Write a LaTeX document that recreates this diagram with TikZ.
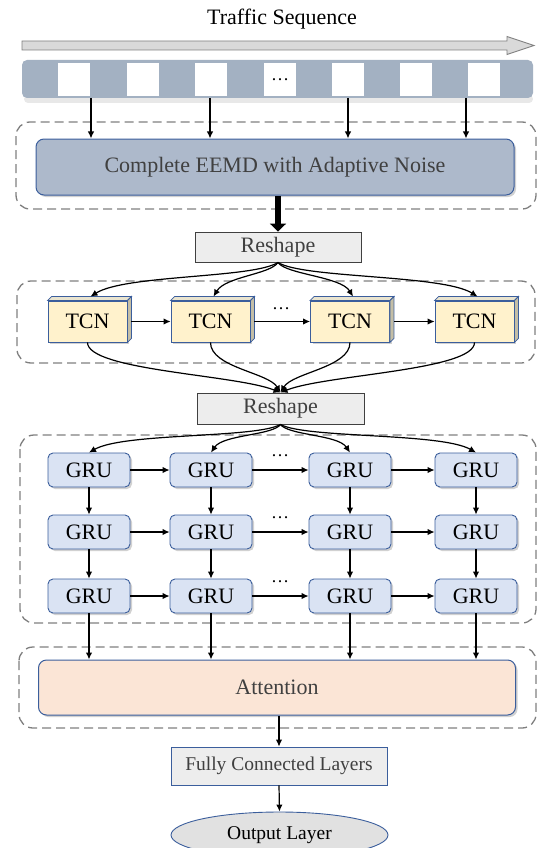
\documentclass[tikz,border=0pt]{standalone}
\usepackage{fontspec}
\setmainfont{Liberation Serif}
\usetikzlibrary{arrows.meta,shapes.geometric,shadows,calc}
\definecolor{barblue}{HTML}{A3B1C2}
\definecolor{eemdfill}{HTML}{ADB9CB}
\definecolor{bord}{HTML}{3B5E9C}
\definecolor{tcnfill}{HTML}{FFF2CC}
\definecolor{tcntop}{HTML}{E9E4CF}
\definecolor{tcnside}{HTML}{C4BEA6}
\definecolor{grufill}{HTML}{DAE3F3}
\definecolor{attfill}{HTML}{FBE5D6}
\definecolor{resfill}{HTML}{EDEDED}
\definecolor{darktext}{HTML}{404040}
\definecolor{dashgray}{HTML}{7F7F7F}
\definecolor{arrowgray}{HTML}{D9D9D9}
\begin{document}
\begin{tikzpicture}[x=1pt,y=-1pt,
  arr/.style={-{Latex[length=7pt,width=6.5pt]}, line width=1.2pt},
  dashbox/.style={draw=dashgray, line width=1.3pt, dash pattern=on 9pt off 5pt, rounded corners=14pt},
  shad/.style={drop shadow={shadow xshift=2pt, shadow yshift=-2pt, opacity=0.3, fill=black!60}},
  big/.style={font=\fontsize{22}{24}\selectfont},
  mid/.style={font=\fontsize{19.5}{22}\selectfont},
  dotsnode/.style={font=\fontsize{18}{20}\selectfont, inner sep=0pt},
  tcnbox/.style={draw=bord, line width=0.9pt, fill=tcnfill, minimum width=79pt, minimum height=41pt, inner sep=0pt, big, shad},
  grubox/.style={draw=bord, line width=0.9pt, fill=grufill, rounded corners=5pt, minimum width=82pt, minimum height=34pt, inner sep=0pt, big, shad},
  sqbox/.style={fill=white, minimum width=32pt, minimum height=33pt, inner sep=0pt},
  resbox/.style={draw=darktext, line width=0.9pt, fill=resfill, minimum width=166pt, minimum height=30pt, inner sep=0pt, big, text=darktext}
]
\useasboundingbox (0,0) rectangle (537,848);

% title and sequence arrow
\node[big] (title) at (282,19) {Traffic Sequence};
\draw[draw=dashgray, fill=arrowgray, line width=0.8pt]
  (22,41) -- (507,41) -- (507,36.5) -- (534,45.5) -- (507,54.5) -- (507,50) -- (22,50) -- cycle;

% sequence bar
\fill[black!15, opacity=0.6, rounded corners=4pt] (24,95) rectangle (533,103);
\node[fill=barblue, rounded corners=5pt, minimum width=511pt, minimum height=38pt, inner sep=0pt] (bar) at (277.5,79) {};
\foreach \i/\x in {1/74,2/143,3/211,5/348,6/416,7/484}{
  \node[sqbox] (sq\i) at (\x,79.5) {};
}
\node[sqbox, dotsnode] (sq4) at (280,79.5) {\ldots};

% EEMD block
\draw[dashbox] (16,122) rectangle (536,209);
\node[draw=bord, line width=1pt, fill=eemdfill, rounded corners=8pt, minimum width=478pt, minimum height=56pt, inner sep=0pt, big, text=darktext, shad] (eemd) at (275,167) {Complete EEMD with Adaptive Noise};
\foreach \i/\x in {1/91,2/210,3/348,4/466}{
  \coordinate (s\i) at (\x,98);
  \draw[arr] (s\i) -- (s\i |- eemd.north);
}

% Reshape 1
\node[resbox] (r1) at (278,247) {Reshape};
\draw[line width=6.5pt, -{Triangle[length=8pt,width=16pt]}] (r1.north |- eemd.south) -- (r1.north);

% TCN block
\draw[dashbox] (17,281) rectangle (535,363);
\foreach \i/\x in {1/87.5,2/210.5,3/350,4/474.5}{
  \node[tcnbox] (t\i) at (\x,321.5) {TCN};
  \draw[draw=bord, line width=0.8pt, fill=tcntop] (t\i.north west) -- ++(4,-4) -- ($(t\i.north east)+(4,-4)$) -- (t\i.north east) -- cycle;
  \draw[draw=bord, line width=0.8pt, fill=tcnside] (t\i.north east) -- ++(4,-4) -- ($(t\i.south east)+(4,-4)$) -- (t\i.south east) -- cycle;
  \coordinate (tt\i) at ($(t\i.north)+(3,-4)$);
}
\draw[arr] ($(t1.east)+(4,0)$) -- (t2.west);
\draw[arr] ($(t2.east)+(4,0)$) -- (t3.west);
\draw[arr] ($(t3.east)+(4,0)$) -- (t4.west);
\node[dotsnode] (dt) at (281,309) {\ldots};

\draw[arr] (r1.south) .. controls +(-25,16) and +(35,-22) .. (tt1);
\draw[arr] (r1.south) .. controls +(-8,12) and +(12,-20) .. (tt2);
\draw[arr] (r1.south) .. controls +(8,12) and +(-12,-20) .. (tt3);
\draw[arr] (r1.south) .. controls +(25,16) and +(-35,-22) .. (tt4);

% Reshape 2
\node[resbox, minimum width=167pt, minimum height=31pt] (r2) at (280.5,408.5) {Reshape};
\draw[arr] (t1.south) .. controls +(0,28) and +(-45,-18) .. (r2.north);
\draw[arr] (t2.south) .. controls +(0,25) and +(-12,-20) .. (r2.north);
\draw[arr] (t3.south) .. controls +(0,25) and +(12,-20) .. (r2.north);
\draw[arr] (t4.south) .. controls +(0,28) and +(45,-18) .. (r2.north);

% GRU block
\draw[dashbox] (20,435) rectangle (536,623);
\foreach \r/\y in {1/470,2/532,3/596}{
  \foreach \c/\x in {1/89,2/211,3/350,4/476}{
    \node[grubox] (g\r\c) at (\x,\y) {GRU};
  }
  \draw[arr] (g\r1) -- (g\r2);
  \draw[arr] (g\r2) -- (g\r3);
  \draw[arr] (g\r3) -- (g\r4);
}
\node[dotsnode] (dg1) at (280,456) {\ldots};
\node[dotsnode] (dg2) at (280,518) {\ldots};
\node[dotsnode] (dg3) at (280,582) {\ldots};
\foreach \c in {1,2,3,4}{
  \draw[arr] (g1\c) -- (g2\c);
  \draw[arr] (g2\c) -- (g3\c);
}
\draw[arr] (r2.south) .. controls +(-25,14) and +(35,-20) .. (g11.north);
\draw[arr] (r2.south) .. controls +(-8,11) and +(12,-18) .. (g12.north);
\draw[arr] (r2.south) .. controls +(8,11) and +(-12,-18) .. (g13.north);
\draw[arr] (r2.south) .. controls +(25,14) and +(-35,-20) .. (g14.north);

% Attention block
\draw[dashbox] (19,647) rectangle (536,728);
\node[draw=bord, line width=1pt, fill=attfill, rounded corners=8pt, minimum width=477pt, minimum height=55pt, inner sep=0pt, big, text=darktext, shad] (att) at (277,687.5) {Attention};
\foreach \c in {1,2,3,4}{
  \draw[arr] (g3\c.south) -- (g3\c.south |- att.north);
}

% Fully connected and output
\node[draw=bord, line width=0.9pt, fill=resfill, minimum width=216pt, minimum height=38pt, inner sep=0pt, mid, text=darktext] (fc) at (279,766) {Fully Connected Layers};
\draw[arr] (fc.north |- att.south) -- (fc.north);
\node[ellipse, draw=bord, line width=0.9pt, fill=resfill!95!black, minimum width=217pt, minimum height=46pt, inner sep=0pt, mid] (out) at (279.5,835) {Output Layer};
\draw[arr] (fc.south) -- (out.north);
\end{tikzpicture}
\end{document}
